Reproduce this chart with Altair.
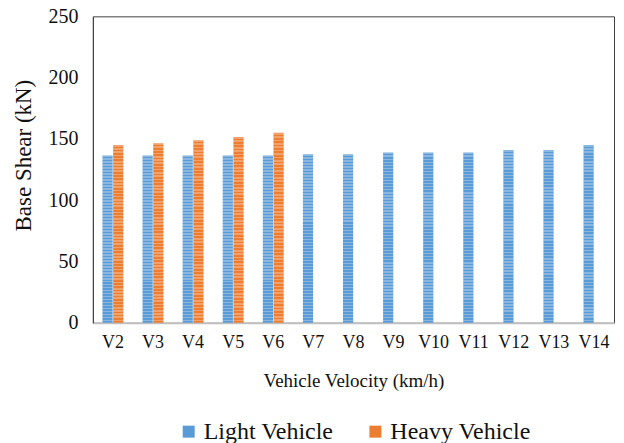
import altair as alt
import pandas as pd

categories = ["V2", "V3", "V4", "V5", "V6", "V7", "V8", "V9", "V10", "V11", "V12", "V13", "V14"]
light = [136.5, 136.5, 136.5, 136.5, 136.5, 137.5, 137.5, 139, 139, 139, 141, 141, 145]
heavy_cats = ["V2", "V3", "V4", "V5", "V6"]
heavy = [145, 146.5, 149, 151.5, 155]

rows = [{"cat": c, "series": "Light Vehicle", "value": v} for c, v in zip(categories, light)]
rows += [{"cat": c, "series": "Heavy Vehicle", "value": v} for c, v in zip(heavy_cats, heavy)]
df = pd.DataFrame(rows)

series_order = ["Light Vehicle", "Heavy Vehicle"]
FONT = "'Liberation Serif', 'Times New Roman', serif"

# stripe overlay gradient
n = 56
stops = []
for i in range(n):
    a = i / n
    b = (i + 0.5) / n
    c = (i + 1) / n
    stops += [
        {"offset": a, "color": "rgba(255,255,255,0.28)"},
        {"offset": b, "color": "rgba(255,255,255,0.28)"},
        {"offset": b, "color": "rgba(255,255,255,0)"},
        {"offset": c, "color": "rgba(255,255,255,0)"},
    ]
grad = alt.Gradient(gradient="linear", stops=stops, x1=0, x2=0, y1=0, y2=1)

x_enc = alt.X("cat:N", sort=categories,
              scale=alt.Scale(paddingInner=0.48, paddingOuter=0.24),
              axis=alt.Axis(title="Vehicle Velocity (km/h)", labelAngle=0, ticks=False,
                            labelPadding=11, titlePadding=20, domainColor="#BFBFBF",
                            domainWidth=2, labelFontSize=18, titleFontSize=19,
                            labelFont=FONT, titleFont=FONT, labelColor="#111",
                            titleColor="#111", titleFontWeight="normal"))
y_enc = alt.Y("value:Q", scale=alt.Scale(domain=[0, 250]),
              axis=alt.Axis(title="Base Shear (kN)", values=[0, 50, 100, 150, 200, 250],
                            grid=False, ticks=False, labelPadding=15, domainColor="#404040",
                            labelFontSize=20, titleFontSize=23, labelFont=FONT, titleFont=FONT,
                            labelColor="#111", titleColor="#111", titleFontWeight="normal",
                            titleX=-69, titleY=139, titleBaseline="middle"))
xo = alt.XOffset("series:N", sort=series_order, scale=alt.Scale(paddingInner=0.05))

base = alt.Chart(df)
bars = base.mark_bar().encode(
    x=x_enc, y=y_enc, xOffset=xo,
    color=alt.Color("series:N", sort=series_order,
                    scale=alt.Scale(domain=series_order, range=["#5B9BD5", "#ED7D31"]),
                    legend=alt.Legend(title=None, orient="none", direction="horizontal",
                                      legendX=84, legendY=404, symbolType="square",
                                      symbolSize=144, symbolStrokeWidth=0,
                                      labelFontSize=24, labelFont=FONT, labelColor="#111",
                                      columnPadding=30, labelOffset=3)),
)
stripes = base.mark_bar(fill=grad).encode(x=x_enc, y=y_enc, xOffset=xo)

chart = alt.layer(bars, stripes).properties(
    width=522, height=307,
    autosize=alt.AutoSizeParams(type="none"),
    padding={"left": 85, "top": 8, "right": 2, "bottom": 120},
).configure_view(stroke="#404040", strokeWidth=1)

chart.save("out.html", embed_options={"renderer": "svg", "actions": False})
